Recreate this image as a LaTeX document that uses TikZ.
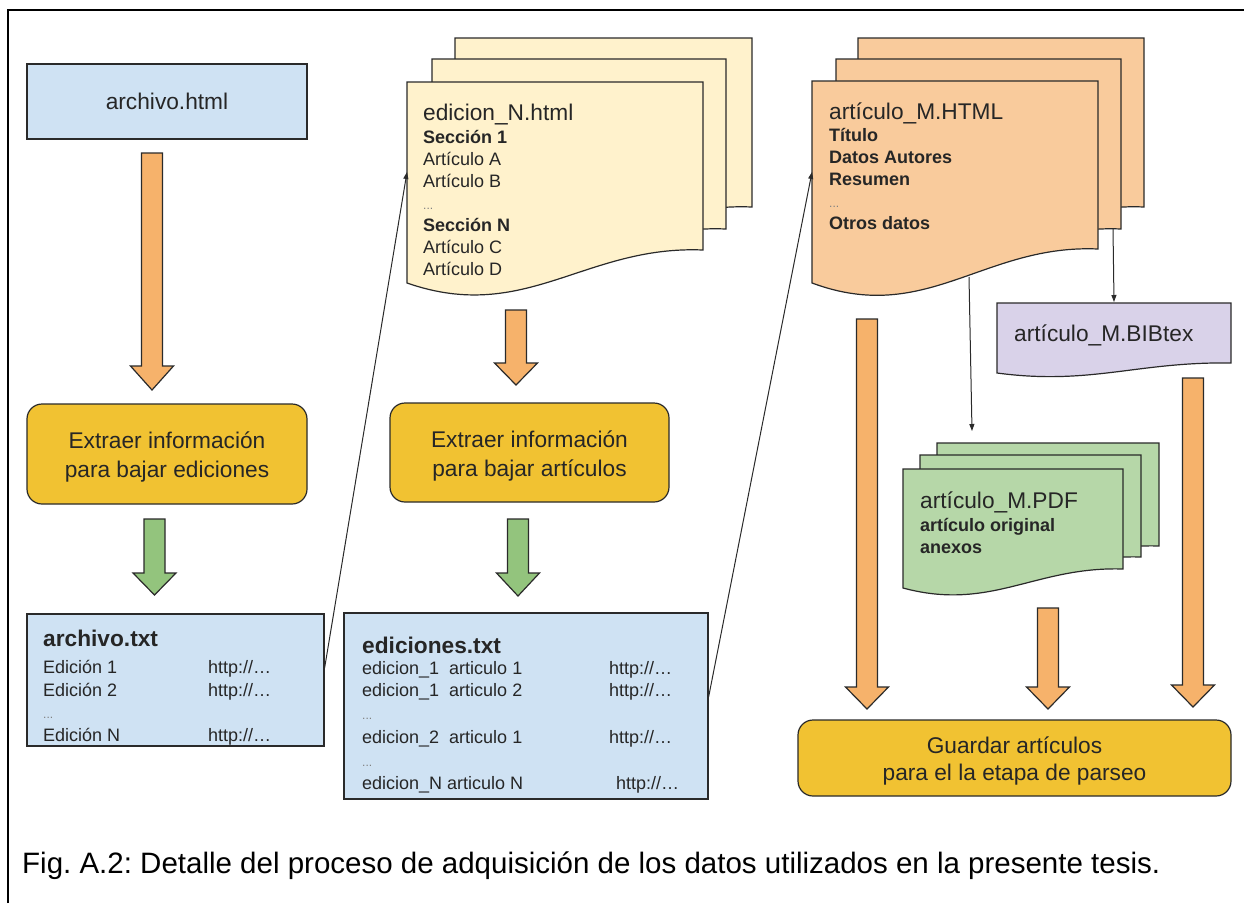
\documentclass[tikz,border=0pt]{standalone}
\usepackage{fontspec}
\setmainfont{Liberation Sans}
\usetikzlibrary{arrows.meta}
\frenchspacing
\definecolor{lblue}{HTML}{CFE2F3}
\definecolor{gold}{HTML}{F1C232}
\definecolor{arrorange}{HTML}{F6B26B}
\definecolor{arrgreen}{HTML}{93C47D}
\definecolor{lyellow}{HTML}{FFF2CC}
\definecolor{lorange}{HTML}{F9CB9C}
\definecolor{lpurple}{HTML}{D9D2E9}
\definecolor{lgreen}{HTML}{B6D7A8}
\definecolor{txtgray}{HTML}{262626}
\definecolor{edgegray}{HTML}{2A2A2A}
\tikzset{
  shp/.style={draw=edgegray, line width=1.2pt, line join=miter},
  boxnode/.style={shp, inner sep=0pt},
  txt/.style={inner sep=0pt, anchor=base west, text=txtgray},
  bigf/.style={font=\fontsize{22.7}{27}\selectfont},
  bigb/.style={font=\fontsize{22.7}{27}\selectfont\bfseries},
  smallf/.style={font=\fontsize{18}{22}\selectfont},
  smallb/.style={font=\fontsize{18}{22}\selectfont\bfseries},
  dotsf/.style={font=\fontsize{12}{14}\selectfont, text=gray},
  conn/.style={draw=edgegray, line width=1pt, -{Triangle[length=7pt,width=5pt]}},
}
\newcommand\docsheet[6]{%
  \filldraw[shp, fill=#6] (#1,#2) -- (#3,#2) -- (#3,{#4-#5})
    .. controls ({#1+0.6*(#3-#1)},{#4-1.15*#5}) and ({#1+0.4*(#3-#1)},{#4+1.25*#5}) .. (#1,#4) -- cycle;}
\newcommand\blockarr[5]{%
  \filldraw[shp, fill=#5] ({#1-10.5},#2) -- ({#1+10.5},#2) -- ({#1+10.5},#3) -- ({#1+21.5},#3)
    -- (#1,#4) -- ({#1-21.5},#3) -- ({#1-10.5},#3) -- cycle;}
\begin{document}
\begin{tikzpicture}[x=1pt,y=-1pt]
\useasboundingbox (0,0) rectangle (1244,903);
% frame
\draw[line width=2.6pt, black] (8,903) -- (8,10) -- (1244,10);

% ---------- left column
\node[boxnode, fill=lblue, minimum width=280pt, minimum height=75pt] (ahtml) at (167,101.5) {};
\node[inner sep=0pt, bigf, text=txtgray] (ahtmlt) at (167,101) {archivo.html};
\blockarr{152}{153}{366}{390}{arrorange}
\node[boxnode, fill=gold, rounded corners=15pt, minimum width=280pt, minimum height=100pt] (ext1) at (167,454) {};
\node[txt, anchor=base, bigf] (ext1a) at (167,448) {Extraer información};
\node[txt, anchor=base, bigf] (ext1b) at (167,477) {para bajar ediciones};
\blockarr{154.5}{519}{573}{595}{arrgreen}
\node[boxnode, fill=lblue, minimum width=297pt, minimum height=132pt] (atxt) at (175.5,680) {};
\node[txt, bigb] (atxt0) at (43,646) {archivo.txt};
\node[txt, smallf] (atxt1) at (43,673) {\makebox[165pt][l]{Edición 1}http://…};
\node[txt, smallf] (atxt2) at (43,696) {\makebox[165pt][l]{Edición 2}http://…};
\node[txt, dotsf] (atxt3) at (43,718) {...};
\node[txt, smallf] (atxt4) at (43,741) {\makebox[165pt][l]{Edición N}http://…};

% ---------- middle column
\docsheet{455}{38}{752}{240}{33}{lyellow}
\docsheet{432}{59}{726}{262}{33}{lyellow}
\docsheet{407}{82}{703}{283}{33}{lyellow}
\coordinate (edN-in) at (407,172);
\node[txt, bigf] (ed0) at (423,120) {edicion\_N.html};
\node[txt, smallb] (ed1) at (423,143) {Sección 1};
\node[txt, smallf] (ed2) at (423,165) {Artículo A};
\node[txt, smallf] (ed3) at (423,187) {Artículo B};
\node[txt, dotsf] (ed4) at (423,209) {...};
\node[txt, smallb] (ed5) at (423,231) {Sección N};
\node[txt, smallf] (ed6) at (423,253) {Artículo C};
\node[txt, smallf] (ed7) at (423,275) {Artículo D};
\blockarr{516}{310}{363}{385}{arrorange}
\node[boxnode, fill=gold, rounded corners=15pt, minimum width=279pt, minimum height=99pt] (ext2) at (529.5,452.5) {};
\node[txt, anchor=base, bigf] (ext2a) at (529.5,447) {Extraer información};
\node[txt, anchor=base, bigf] (ext2b) at (529.5,476) {para bajar artículos};
\blockarr{518}{519}{573}{596}{arrgreen}
\node[boxnode, fill=lblue, minimum width=364pt, minimum height=186pt] (edtxt) at (526,706) {};
\node[txt, bigb] (et0) at (362,653) {ediciones.txt};
\node[txt, smallf] (et1) at (362,674) {\makebox[247pt][l]{edicion\_1\ \ articulo 1}http://…};
\node[txt, smallf] (et2) at (362,696) {\makebox[247pt][l]{edicion\_1\ \ articulo 2}http://…};
\node[txt, dotsf] (et3) at (362,719) {...};
\node[txt, smallf] (et4) at (362,743) {\makebox[247pt][l]{edicion\_2\ \ articulo 1}http://…};
\node[txt, dotsf] (et5) at (362,766) {...};
\node[txt, smallf] (et6) at (362,789) {\makebox[254pt][l]{edicion\_N articulo N}http://…};

% ---------- right column
\docsheet{858}{38}{1144}{241}{34}{lorange}
\docsheet{836}{59}{1121}{263}{34}{lorange}
\docsheet{812}{81}{1098}{283}{34}{lorange}
\coordinate (art-in) at (812,172);
\coordinate (art-out) at (969,277);
\coordinate (artmid-out) at (1113,229);
\node[txt, bigf] (ar0) at (829,119) {artículo\_M.HTML};
\node[txt, smallb] (ar1) at (829,141) {Título};
\node[txt, smallb] (ar2) at (829,163) {Datos Autores};
\node[txt, smallb] (ar3) at (829,185) {Resumen};
\node[txt, dotsf] (ar4) at (829,207) {...};
\node[txt, smallb] (ar5) at (829,229) {Otros datos};

\docsheet{997}{303}{1231}{373}{10}{lpurple}
\coordinate (bib-in) at (1114,302);
\node[txt, bigf] (bib) at (1014,341) {artículo\_M.BIBtex};

\docsheet{937}{443}{1159}{565}{19}{lgreen}
\docsheet{920}{455}{1141}{576}{19}{lgreen}
\docsheet{903}{469}{1123}{588}{19}{lgreen}
\coordinate (pdf-in) at (972,431);
\node[txt, bigf] (pdf0) at (920,508) {artículo\_M.PDF};
\node[txt, smallb] (pdf1) at (920,531) {artículo original};
\node[txt, smallb] (pdf2) at (920,553) {anexos};

\blockarr{867}{319}{687}{709}{arrorange}
\blockarr{1048}{608}{687}{709}{arrorange}
\blockarr{1193}{378}{685}{707}{arrorange}
\node[boxnode, fill=gold, rounded corners=15pt, minimum width=433pt, minimum height=76pt] (guard) at (1014.5,758) {};
\node[txt, anchor=base, bigf] (guarda) at (1014.5,753) {Guardar artículos};
\node[txt, anchor=base, bigf] (guardb) at (1014.5,780) {para el la etapa de parseo};

% ---------- connectors
\draw[conn] ([yshift=12pt]atxt.east) -- (edN-in);
\draw[conn] ([yshift=9pt]edtxt.east) -- (art-in);
\draw[conn] (art-out) -- (pdf-in);
\draw[conn] (artmid-out) -- (bib-in);

% ---------- caption
\node[inner sep=0pt, anchor=base west, font=\fontsize{29.5}{34}\selectfont, text=black] (cap) at (22,873)
  {Fig. A.2: Detalle del proceso de adquisición de los datos utilizados en la presente tesis.};
\end{tikzpicture}
\end{document}
